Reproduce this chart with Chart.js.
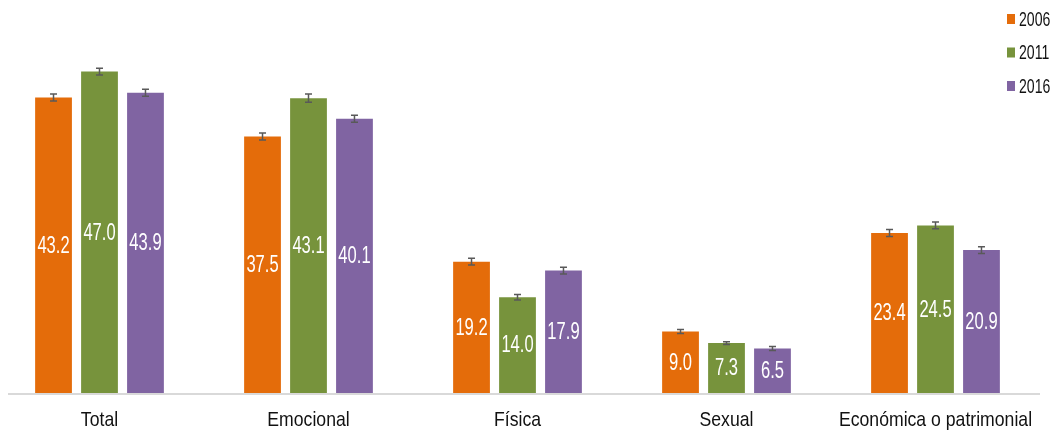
<!DOCTYPE html>
<html>
<head>
<meta charset="utf-8">
<script src="https://cdn.jsdelivr.net/npm/chart.js@4/dist/chart.umd.min.js"></script>
<style>
  html, body { margin: 0; padding: 0; background: #fff; overflow: hidden; }
  #wrap { position: absolute; left: -5px; top: 0; width: 1059px; height: 435px; }
</style>
</head>
<body>
<div id="wrap"><canvas id="chart"></canvas></div>
<script>
const categories = ["Total", "Emocional", "Física", "Sexual", "Económica o patrimonial"];
const years = ["2006", "2011", "2016"];
const values2006 = [43.2, 37.5, 19.2, 9.0, 23.4];
const values2011 = [47.0, 43.1, 14.0, 7.3, 24.5];
const values2016 = [43.9, 40.1, 17.9, 6.5, 20.9];
const errors2006 = [0.5, 0.5, 0.5, 0.3, 0.5];
const errors2011 = [0.5, 0.6, 0.4, 0.2, 0.5];
const errors2016 = [0.5, 0.5, 0.5, 0.3, 0.5];
const colors = ["#E46C0A", "#77933C", "#8064A2"];

const font = '"Liberation Sans", Arial, sans-serif';

// canvas text has no narrow font here, so squeeze it horizontally
function drawSquished(ctx, text, x, y, scaleX) {
    ctx.save();
    ctx.translate(x, y);
    ctx.scale(scaleX, 1);
    ctx.fillText(text, 0, 0);
    ctx.restore();
}

const extras = {
    id: "extras",
    afterDatasetsDraw(chart) {
        const ctx = chart.ctx;
        const yScale = chart.scales.y;
        const xScale = chart.scales.x;
        const area = chart.chartArea;

        // baseline
        ctx.save();
        ctx.strokeStyle = "#D9D9D9";
        ctx.lineWidth = 2;
        ctx.beginPath();
        ctx.moveTo(13, area.bottom + 1);
        ctx.lineTo(area.right, area.bottom + 1);
        ctx.stroke();
        ctx.restore();

        chart.data.datasets.forEach((ds, di) => {
            const meta = chart.getDatasetMeta(di);
            meta.data.forEach((bar, i) => {
                const v = ds.data[i];
                const e = ds.errors[i];
                const yTop = yScale.getPixelForValue(v + e);
                const yBot = yScale.getPixelForValue(v - e);
                ctx.save();
                ctx.strokeStyle = "#595959";
                ctx.lineWidth = 1.5;
                ctx.beginPath();
                ctx.moveTo(bar.x, yTop);
                ctx.lineTo(bar.x, yBot);
                ctx.moveTo(bar.x - 3.5, yTop);
                ctx.lineTo(bar.x + 3.5, yTop);
                ctx.moveTo(bar.x - 3.5, yBot);
                ctx.lineTo(bar.x + 3.5, yBot);
                ctx.stroke();

                // value label
                ctx.fillStyle = "#ffffff";
                ctx.font = "23px " + font;
                ctx.textAlign = "center";
                ctx.textBaseline = "middle";
                const mid = (bar.y + bar.base) / 2 + 1;
                drawSquished(ctx, v.toFixed(1), bar.x, mid, 0.72);
                ctx.restore();
            });
        });

        // category labels
        ctx.save();
        ctx.fillStyle = "#111111";
        ctx.font = "21px " + font;
        ctx.textAlign = "center";
        ctx.textBaseline = "alphabetic";
        chart.data.labels.forEach((lab, i) => {
            drawSquished(ctx, lab, xScale.getPixelForTick(i), area.bottom + 33, 0.84);
        });
        ctx.restore();

        // legend
        ctx.save();
        ctx.font = "21px " + font;
        ctx.textAlign = "left";
        ctx.textBaseline = "middle";
        chart.data.datasets.forEach((ds, di) => {
            const cy = 19 + di * 33.5;
            ctx.fillStyle = ds.backgroundColor;
            ctx.fillRect(chart.width - 47, cy - 5, 8, 10);
            ctx.fillStyle = "#111111";
            drawSquished(ctx, ds.label, chart.width - 35, cy + 1, 0.67);
        });
        ctx.restore();
    }
};

const series = [values2006, values2011, values2016];
const errs = [errors2006, errors2011, errors2016];

new Chart(document.getElementById("chart"), {
    type: "bar",
    data: {
        labels: categories,
        datasets: years.map((y, i) => ({
            label: y,
            data: series[i],
            errors: errs[i],
            backgroundColor: colors[i],
            categoryPercentage: 0.66,
            barPercentage: 0.8
        }))
    },
    options: {
        responsive: true,
        maintainAspectRatio: false,
        animation: false,
        layout: { padding: { top: 10, bottom: 42, left: 0, right: 14 } },
        plugins: { legend: { display: false }, tooltip: { enabled: false } },
        scales: {
            x: { display: false },
            y: { display: false, min: 0, max: 56 }
        }
    },
    plugins: [extras]
});
</script>
</body>
</html>
